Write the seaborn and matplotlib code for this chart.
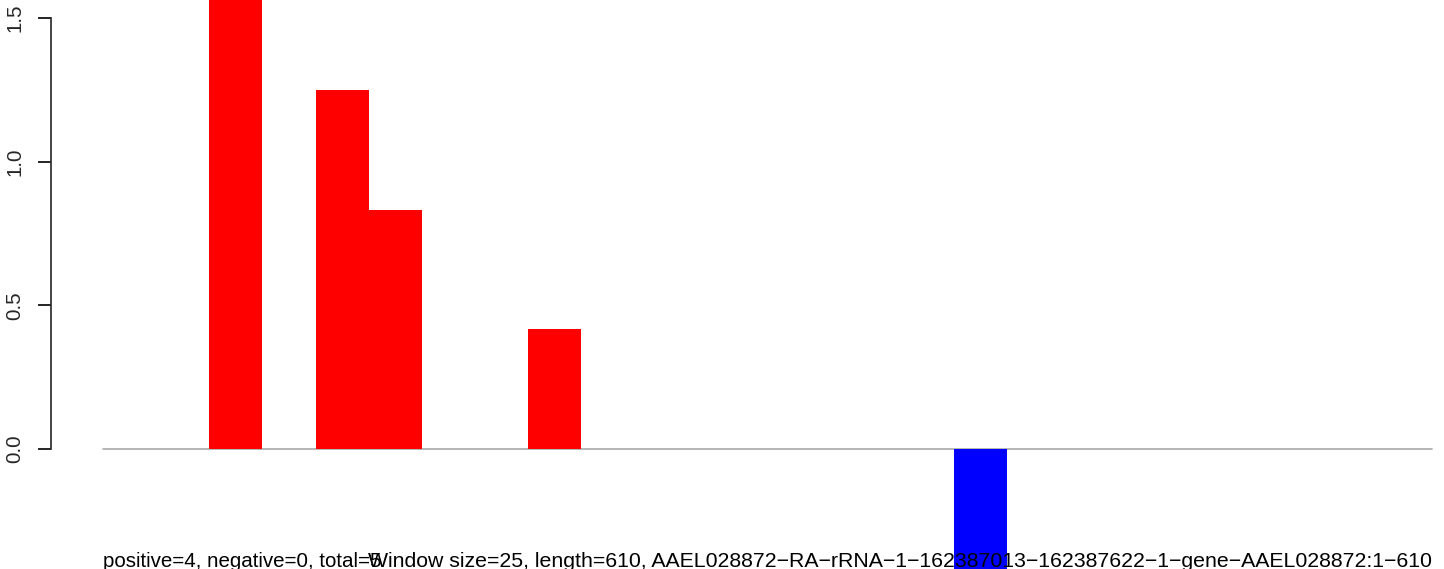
import matplotlib
matplotlib.use("Agg")
import matplotlib.pyplot as plt
import matplotlib.transforms as mtransforms
import seaborn as sns
import pandas as pd

# window index and score per window (25 windows of size 25 over length 610)
windows = list(range(1, 26))
scores = [0, 0, 1.667, 0, 1.25, 0.833, 0, 0, 0.417, 0,
          0, 0, 0, 0, 0, 0, -0.417, 0, 0, 0,
          0, 0, 0, 0, 0]
yticks = [0.0, 0.5, 1.0, 1.5]
left_text = "positive=4, negative=0, total=5"
right_text = ("Window size=25, length=610, "
              "AAEL028872\u2212RA\u2212rRNA\u22121\u2212162387013\u2212162387622"
              "\u22121\u2212gene\u2212AAEL028872:1\u2212610")

sns.set_style("ticks")
plt.rcParams['font.family'] = ['Liberation Sans', 'DejaVu Sans']

df = pd.DataFrame({"window": windows, "score": scores})
df["sign"] = ["neg" if s < 0 else "pos" for s in scores]

W, H = 1444, 569
fig = plt.figure(figsize=(W / 100, H / 100), dpi=100)
ax = fig.add_axes([51 / W, 0, 1 - 51 / W, 1])

sns.barplot(data=df, x="window", y="score", hue="sign",
            palette={"pos": "#FF0000", "neg": "#0000FF"},
            dodge=False, width=1.0, saturation=1, linewidth=0,
            legend=False, ax=ax)

bw = 1329 / 25  # pixels per bar
ax.set_xlim(-0.5 - 52 / bw, 24.5 + 12 / bw)
ax.set_ylim(-5 / 12, 449 / 287.5)
# zero line across the bar range, drawn under the bars
ax.plot([-0.5, len(windows) - 0.5], [0, 0], color="#A9A9A9", lw=1.2, zorder=0.5)

ax.set_xlabel("")
ax.set_ylabel("")
ax.set_xticks([])
ax.set_yticks(yticks)
ax.set_yticklabels(["%.1f" % t for t in yticks], rotation=90, va="center",
                   fontsize=14.8)
ax.tick_params(axis="y", length=9.4, width=1.2, pad=10, color="black")
sns.despine(ax=ax, bottom=True)
ax.spines["left"].set_bounds(0, 1.5)
ax.spines["left"].set_linewidth(1.2)

trans = mtransforms.blended_transform_factory(ax.transData, ax.transAxes)
ax.text(-0.5, 2 / H, left_text, transform=trans, ha="left", va="baseline",
        fontsize=14.8, color="black")
ax.text(24.5, 2 / H, right_text, transform=trans, ha="right", va="baseline",
        fontsize=15.3, color="black")

fig.savefig("out.png", dpi=100)
